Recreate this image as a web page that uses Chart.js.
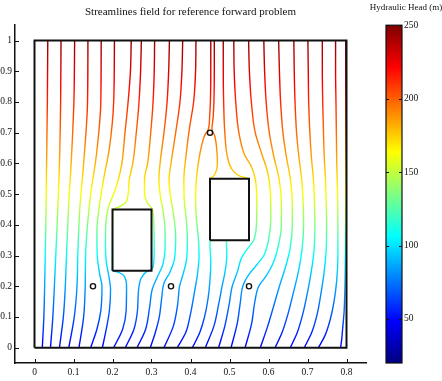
<!DOCTYPE html>
<html><head><meta charset="utf-8">
<script src="https://cdn.jsdelivr.net/npm/chart.js@4.4.1/dist/chart.umd.min.js"></script>
<style>html,body{margin:0;padding:0;background:#fff}#c{display:block}</style>
</head><body>
<canvas id="c" width="442" height="381"></canvas>
<script>
// ---- data ----
const xTicks = [0, 0.1, 0.2, 0.3, 0.4, 0.5, 0.6, 0.7, 0.8];
const yTicks = [0, 0.1, 0.2, 0.3, 0.4, 0.5, 0.6, 0.7, 0.8, 0.9, 1];
const cbTicks = [50, 100, 150, 200, 250];
const headRange = [20, 250];
const headDepth = [0, 0.2, 0.3, 0.4, 0.5, 0.65, 0.85, 1];
const headValue = [48, 85, 106, 135, 162, 190, 220, 245];

const domainBox = [[0,0],[0.8,0],[0.8,1],[0,1],[0,0]];
const block1 = [[0.2,0.25],[0.3,0.25],[0.3,0.45],[0.2,0.45],[0.2,0.25]];
const block2 = [[0.45,0.35],[0.55,0.35],[0.55,0.55],[0.45,0.55],[0.45,0.35]];
const wells = [[0.15,0.2],[0.35,0.2],[0.55,0.2],[0.45,0.7]];

const line01 = [[0.034,1],[0.033,0.8],[0.031,0.6],[0.029,0.4],[0.026,0.2],[0.024,0.1],[0.02,0]];
const line02 = [[0.068,1],[0.067,0.8],[0.064,0.6],[0.058,0.4],[0.051,0.2],[0.047,0.1],[0.041,0]];
const line03 = [[0.103,1],[0.101,0.8],[0.094,0.6],[0.087,0.45],[0.082,0.3],[0.079,0.2],[0.074,0.1],[0.064,0]];
const line04 = [[0.137,1],[0.136,0.8],[0.126,0.6],[0.116,0.45],[0.111,0.3],[0.109,0.2],[0.102,0.1],[0.088,0]];
const line05 = [[0.171,1],[0.17,0.8],[0.158,0.62],[0.144,0.5],[0.136,0.4],[0.131,0.3],[0.13,0.2],[0.126,0.1],[0.114,0]];
const line06 = [[0.205,1],[0.203,0.8],[0.192,0.65],[0.177,0.547],[0.165,0.45],[0.16,0.38],[0.161,0.3],[0.167,0.24],[0.173,0.2],[0.17,0.12],[0.16,0.06],[0.144,0]];
const line07 = [[0.248,1],[0.246,0.9],[0.24,0.8],[0.232,0.7],[0.224,0.6],[0.215,0.547],[0.203,0.5],[0.19,0.46],[0.184,0.42],[0.182,0.35],[0.184,0.28],[0.191,0.23],[0.195,0.19],[0.192,0.12],[0.184,0.06],[0.174,0]];
const line08 = [[0.274,1],[0.272,0.9],[0.268,0.8],[0.261,0.7],[0.252,0.6],[0.243,0.547],[0.24,0.5],[0.232,0.47],[0.216,0.458],[0.201,0.451],[0.2,0.35],[0.2,0.251],[0.214,0.246],[0.228,0.236],[0.236,0.2],[0.235,0.12],[0.226,0.06],[0.203,0]];
const line09 = [[0.308,1],[0.307,0.9],[0.304,0.8],[0.298,0.7],[0.29,0.6],[0.282,0.547],[0.282,0.504],[0.29,0.47],[0.3,0.455],[0.304,0.44],[0.306,0.4],[0.307,0.33],[0.306,0.28],[0.301,0.256],[0.285,0.245],[0.273,0.225],[0.267,0.19],[0.264,0.12],[0.255,0.06],[0.233,0]];
const line10 = [[0.346,1],[0.344,0.9],[0.34,0.8],[0.332,0.7],[0.322,0.6],[0.319,0.547],[0.322,0.5],[0.329,0.45],[0.334,0.4],[0.335,0.33],[0.329,0.27],[0.315,0.23],[0.302,0.19],[0.295,0.13],[0.285,0.06],[0.263,0]];
const line11 = [[0.38,1],[0.378,0.9],[0.373,0.8],[0.362,0.7],[0.35,0.6],[0.345,0.547],[0.348,0.5],[0.357,0.43],[0.362,0.36],[0.359,0.29],[0.347,0.245],[0.332,0.21],[0.326,0.16],[0.32,0.1],[0.31,0.05],[0.297,0]];
const line12 = [[0.414,1],[0.413,0.9],[0.408,0.8],[0.398,0.72],[0.388,0.62],[0.383,0.547],[0.384,0.48],[0.389,0.42],[0.392,0.35],[0.389,0.28],[0.38,0.235],[0.372,0.2],[0.367,0.14],[0.356,0.07],[0.332,0]];
const line13 = [[0.452,1],[0.452,0.9],[0.451,0.8],[0.449,0.75],[0.446,0.712],[0.436,0.69],[0.427,0.65],[0.42,0.6],[0.415,0.547],[0.413,0.48],[0.415,0.42],[0.42,0.36],[0.422,0.3],[0.418,0.24],[0.41,0.18],[0.4,0.11],[0.388,0.05],[0.366,0]];
const line14 = [[0.461,1],[0.461,0.9],[0.46,0.8],[0.458,0.75],[0.455,0.712],[0.462,0.69],[0.467,0.65],[0.469,0.6],[0.465,0.572],[0.457,0.556],[0.45,0.551],[0.45,0.45],[0.45,0.351],[0.45,0.33],[0.452,0.28],[0.45,0.22],[0.445,0.16],[0.436,0.1],[0.424,0.05],[0.405,0]];
const line15 = [[0.484,1],[0.484,0.9],[0.485,0.8],[0.488,0.7],[0.495,0.62],[0.508,0.578],[0.528,0.558],[0.549,0.551]];
const line15b = [[0.492,0.349],[0.493,0.3],[0.489,0.25],[0.481,0.2],[0.472,0.14],[0.46,0.07],[0.438,0]];
const line16 = [[0.511,1],[0.512,0.9],[0.516,0.8],[0.524,0.7],[0.538,0.63],[0.556,0.59],[0.566,0.55],[0.57,0.47],[0.569,0.4],[0.562,0.35],[0.545,0.32],[0.53,0.29],[0.521,0.25],[0.507,0.2],[0.499,0.14],[0.488,0.07],[0.472,0]];
const line17 = [[0.549,1],[0.551,0.9],[0.556,0.8],[0.566,0.7],[0.583,0.63],[0.598,0.57],[0.605,0.5],[0.606,0.42],[0.6,0.35],[0.588,0.3],[0.57,0.27],[0.548,0.235],[0.534,0.2],[0.528,0.15],[0.52,0.08],[0.504,0]];
const line18 = [[0.588,1],[0.59,0.9],[0.594,0.8],[0.602,0.7],[0.614,0.62],[0.627,0.55],[0.633,0.47],[0.633,0.4],[0.625,0.33],[0.61,0.27],[0.592,0.23],[0.575,0.2],[0.565,0.15],[0.557,0.08],[0.54,0]];
const line19 = [[0.626,1],[0.628,0.9],[0.631,0.8],[0.637,0.7],[0.646,0.62],[0.656,0.55],[0.661,0.47],[0.661,0.4],[0.655,0.32],[0.643,0.26],[0.628,0.2],[0.612,0.13],[0.598,0.07],[0.579,0]];
const line20 = [[0.665,1],[0.666,0.9],[0.668,0.8],[0.672,0.7],[0.678,0.62],[0.685,0.55],[0.689,0.47],[0.69,0.4],[0.686,0.32],[0.677,0.25],[0.664,0.18],[0.65,0.11],[0.635,0.05],[0.617,0]];
const line21 = [[0.701,1],[0.702,0.9],[0.703,0.8],[0.706,0.7],[0.71,0.62],[0.715,0.55],[0.718,0.47],[0.719,0.4],[0.717,0.32],[0.71,0.25],[0.7,0.18],[0.688,0.11],[0.674,0.05],[0.656,0]];
const line22 = [[0.738,1],[0.738,0.9],[0.739,0.8],[0.741,0.7],[0.743,0.62],[0.746,0.55],[0.748,0.47],[0.749,0.4],[0.748,0.32],[0.743,0.25],[0.735,0.18],[0.725,0.11],[0.711,0.05],[0.692,0]];
const line23 = [[0.772,1],[0.772,0.9],[0.773,0.8],[0.774,0.7],[0.775,0.6],[0.777,0.5],[0.778,0.4],[0.778,0.3],[0.775,0.22],[0.768,0.15],[0.758,0.09],[0.745,0.04],[0.728,0]];
const line24 = [[0.798,1],[0.798,0.8],[0.798,0.5],[0.797,0.3],[0.796,0.2],[0.794,0.12],[0.79,0.06],[0.788,0.03],[0.785,0]];

const streamlines = [line01,line02,line03,line04,line05,line06,line07,line08,line09,line10,line11,line12,line13,line14,line15,line15b,line16,line17,line18,line19,line20,line21,line22,line23,line24];

// ---- helpers ----
const SERIF = "'Liberation Serif','Times New Roman',serif";
function clamp(v){return Math.max(0,Math.min(1,v));}
function jet(t){
  const r = clamp(Math.min(4*t-1.5, -4*t+4.5));
  const g = clamp(Math.min(4*t-0.5, -4*t+3.5));
  const b = clamp(Math.min(4*t+0.5, -4*t+2.5));
  return 'rgb(' + Math.round(r*255) + ',' + Math.round(g*255) + ',' + Math.round(b*255) + ')';
}
const pts = a => a.map(p => ({x:p[0], y:p[1]}));
function headAt(y){
  for (let i = 1; i < headDepth.length; i++){
    if (y <= headDepth[i]){
      const f = (y - headDepth[i-1])/(headDepth[i]-headDepth[i-1]);
      return headValue[i-1] + f*(headValue[i]-headValue[i-1]);
    }
  }
  return headValue[headValue.length-1];
}

let gradCache = null;
function headGradient(ctx){
  const chart = ctx.chart;
  if (!chart.chartArea) return '#00f';
  const ys = chart.scales.y;
  const y0 = ys.getPixelForValue(0), y1 = ys.getPixelForValue(1);
  const key = y0 + ',' + y1;
  if (gradCache && gradCache.key === key) return gradCache.g;
  const g = chart.ctx.createLinearGradient(0, y0, 0, y1);
  for (let i = 0; i <= 50; i++){
    const f = i/50;
    g.addColorStop(f, jet((headAt(f) - headRange[0])/(headRange[1]-headRange[0])));
  }
  gradCache = {key, g};
  return g;
}

const datasets = [];
[block1, block2, domainBox].forEach(b => datasets.push({
  data: pts(b), borderColor:'#111', borderWidth:2, pointRadius:0, tension:0, fill:false, showLine:true
}));
datasets.push({data: pts(wells), showLine:false, pointRadius:2.6, pointBorderWidth:1.4,
  pointBorderColor:'#111', pointBackgroundColor:'rgba(0,0,0,0)'});
streamlines.forEach(l => datasets.push({
  data: pts(l), indexAxis:'y', borderColor: headGradient, borderWidth:1.4, pointRadius:0,
  cubicInterpolationMode:'monotone', fill:false, showLine:true
}));

const decor = {
  id:'decor',
  afterDraw(chart){
    const c = chart.ctx, xs = chart.scales.x, ys = chart.scales.y, cb = chart.scales.cb;
    c.save();
    c.strokeStyle = '#111'; c.lineWidth = 1;
    xTicks.forEach(v => { const px = Math.round(xs.getPixelForValue(v))+0.5; c.beginPath(); c.moveTo(px, xs.top); c.lineTo(px, xs.top-4); c.stroke(); });
    yTicks.forEach(v => { const py = Math.round(ys.getPixelForValue(v))+0.5; c.beginPath(); c.moveTo(ys.right, py); c.lineTo(ys.right+4, py); c.stroke(); });
    const bx0 = cb.left + 20, bx1 = cb.left + 36;
    const top = cb.getPixelForValue(headRange[1]), bot = cb.getPixelForValue(headRange[0]);
    const g = c.createLinearGradient(0, bot, 0, top);
    for (let i = 0; i <= 64; i++){ g.addColorStop(i/64, jet(i/64)); }
    c.fillStyle = g; c.fillRect(bx0, top, bx1-bx0, bot-top);
    c.strokeStyle = '#111'; c.lineWidth = 1.2; c.strokeRect(bx0, top, bx1-bx0, bot-top);
    c.lineWidth = 1;
    cbTicks.forEach(v => { const py = Math.round(cb.getPixelForValue(v))+0.5;
      c.beginPath(); c.moveTo(bx0, py); c.lineTo(bx0+3, py); c.moveTo(bx1, py); c.lineTo(bx1-3, py); c.stroke(); });
    c.fillStyle = '#111'; c.font = '9px ' + SERIF; c.textAlign = 'center'; c.textBaseline = 'middle';
    c.fillText('Hydraulic Head (m)', 406, 8);
    c.restore();
  }
};

new Chart(document.getElementById('c'), {
  type:'line',
  data:{datasets},
  plugins:[decor],
  options:{
    responsive:false, animation:false, parsing:true,
    layout:{padding:{left:0, right:0, top:0, bottom:0}},
    plugins:{
      legend:{display:false}, tooltip:{enabled:false},
      title:{display:true, text:'Streamlines field for reference forward problem', fullSize:false,
        color:'#111', font:{family:SERIF, size:11, weight:'normal'}, padding:{top:6, bottom:6}}
    },
    scales:{
      x:{type:'linear', position:'bottom', min:-0.05, max:0.85,
        afterBuildTicks(s){ s.ticks = xTicks.map(v=>({value:v})); },
        afterFit(s){ s.height = 18; s.paddingLeft = 0; s.paddingRight = 0; },
        grid:{display:false, drawTicks:false}, border:{display:true, color:'#111', width:1.5},
        ticks:{color:'#111', font:{family:SERIF, size:9.5}, padding:4, maxRotation:0, autoSkip:false, callback:v=>String(v)}},
      y:{type:'linear', position:'left', min:-0.05, max:1.05,
        afterBuildTicks(s){ s.ticks = yTicks.map(v=>({value:v})); },
        afterFit(s){ s.width = 15; s.paddingTop = 0; s.paddingBottom = 0; },
        grid:{display:false, drawTicks:false}, border:{display:true, color:'#111', width:1.5},
        ticks:{color:'#111', font:{family:SERIF, size:9.5}, padding:3, autoSkip:false, callback:v=>String(v)}},
      cb:{type:'linear', position:'right', min:headRange[0], max:headRange[1],
        afterBuildTicks(s){ s.ticks = cbTicks.map(v=>({value:v})); },
        afterFit(s){ s.width = 76; s.paddingTop = 0; s.paddingBottom = 0; },
        grid:{display:false, drawTicks:false}, border:{display:false},
        ticks:{color:'#111', font:{family:SERIF, size:9.5}, padding:38, autoSkip:false, callback:v=>String(v)}}
    }
  }
});
</script>
</body></html>
